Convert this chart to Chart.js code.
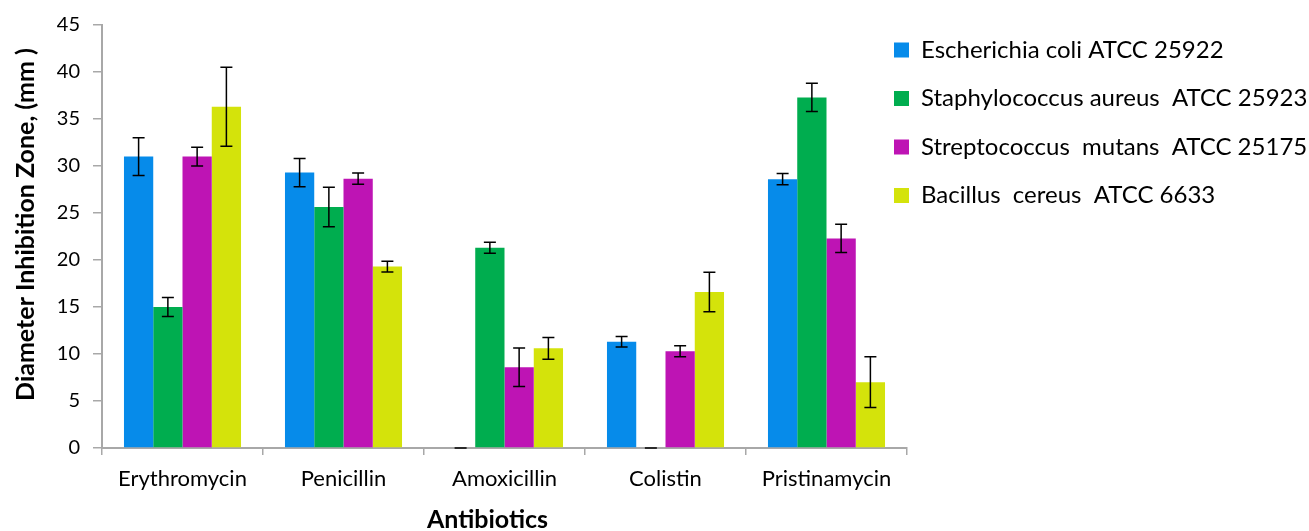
<!DOCTYPE html>
<html>
<head>
<meta charset="utf-8">
<script src="https://cdn.jsdelivr.net/npm/chart.js@4.4.1/dist/chart.umd.min.js"></script>
<style>
  html, body { margin: 0; padding: 0; background: #ffffff; overflow: hidden; }
  #wrap { width: 1309px; height: 531px; position: relative; overflow: hidden; }
  #chart { display: block; }
</style>
</head>
<body>
<div id="wrap"><canvas id="chart"></canvas></div>
<script>
// Antibiotics tested
const categories = ['Erythromycin', 'Penicillin', 'Amoxicillin', 'Colistin', 'Pristinamycin'];

// Strain names
const strainNames = [
  'Escherichia coli ATCC 25922',
  'Staphylococcus aureus  ATCC 25923',
  'Streptococcus  mutans  ATCC 25175',
  'Bacillus  cereus  ATCC 6633'
];

// Mean inhibition zone diameters (mm) and their standard deviations
const ecoliMean    = [31.0, 29.3, 0, 11.3, 28.6];
const ecoliSd      = [2.0, 1.5, 0, 0.55, 0.6];
const saureusMean  = [15.0, 25.65, 21.3, 0, 37.3];
const saureusSd    = [1.0, 2.1, 0.58, 0, 1.5];
const smutansMean  = [31.0, 28.65, 8.6, 10.3, 22.3];
const smutansSd    = [1.0, 0.6, 2.05, 0.58, 1.5];
const bcereusMean  = [36.3, 19.3, 10.6, 16.6, 7.0];
const bcereusSd    = [4.2, 0.57, 1.15, 2.1, 2.7];

// Y axis range
const yMin = 0, yMax = 45, yStep = 5;

const colors = ['#068BEA', '#00AD4F', '#BE14B4', '#D4E30B'];
const FONT = 'Lato, "Open Sans", sans-serif';
const AXIS_COLOR = '#a8a8a8';

// Error bars drawn from each dataset's "errors" array through the y scale
const errorBars = {
  id: 'errorBars',
  afterDatasetsDraw(chart) {
    const ctx = chart.ctx;
    const y = chart.scales.y;
    ctx.save();
    ctx.strokeStyle = '#000000';
    ctx.lineWidth = 1.5;
    chart.data.datasets.forEach((ds, i) => {
      const meta = chart.getDatasetMeta(i);
      meta.data.forEach((bar, j) => {
        const v = ds.data[j];
        const e = ds.errors[j];
        const yHi = y.getPixelForValue(v + e);
        const yLo = y.getPixelForValue(Math.max(v - e, 0));
        const x = bar.x;
        const cap = 6;
        ctx.beginPath();
        ctx.moveTo(x, yHi); ctx.lineTo(x, yLo);
        ctx.moveTo(x - cap, yHi); ctx.lineTo(x + cap, yHi);
        ctx.moveTo(x - cap, yLo); ctx.lineTo(x + cap, yLo);
        ctx.stroke();
      });
    });
    ctx.restore();
  }
};

// Legend overlaps the right end of the plot area; axis titles get small offsets
const LEGEND_W = 402, LEGEND_DX = -37.5, LEGEND_DY = -7.5;
const Y_TITLE_DY = -12, X_TITLE_DX = -17;

function shiftTitle(scale, dx, dy) {
  if (scale._titleShifted) return;
  const dt = scale.drawTitle.bind(scale);
  scale.drawTitle = function () {
    const c = this.ctx;
    c.save();
    c.translate(dx, dy);
    dt();
    c.restore();
  };
  scale._titleShifted = true;
}

const layoutTweaks = {
  id: 'layoutTweaks',
  afterInit(chart) {
    const lg = chart.legend;
    const fit = lg.fit.bind(lg);
    lg.fit = function () { fit(); this.width = LEGEND_W; };
  },
  afterLayout(chart) {
    const lg = chart.legend;
    lg.left += LEGEND_DX;
    lg.right = chart.width;
    lg.width = lg.right - lg.left;
    lg.top += LEGEND_DY;
    lg.height = lg.bottom - lg.top;
    shiftTitle(chart.scales.y, 0, Y_TITLE_DY);
    shiftTitle(chart.scales.x, X_TITLE_DX, 0);
  }
};

const means = [ecoliMean, saureusMean, smutansMean, bcereusMean];
const sds = [ecoliSd, saureusSd, smutansSd, bcereusSd];

new Chart(document.getElementById('chart'), {
  type: 'bar',
  data: {
    labels: categories,
    datasets: strainNames.map((name, i) => ({
      label: name,
      data: means[i],
      errors: sds[i],
      backgroundColor: colors[i],
      borderWidth: 0,
      categoryPercentage: 0.727,
      barPercentage: 1.0
    }))
  },
  options: {
    responsive: true,
    maintainAspectRatio: false,
    animation: false,
    layout: { padding: { top: 21, right: 0, bottom: 0, left: 0 } },
    plugins: {
      tooltip: { enabled: false },
      legend: {
        position: 'right',
        align: 'start',
        labels: {
          boxWidth: 15,
          boxHeight: 15,
          padding: 24.5,
          color: '#000000',
          font: { family: FONT, size: 24 }
        }
      }
    },
    scales: {
      x: {
        grid: {
          drawOnChartArea: false,
          offset: true,
          tickLength: 7,
          color: AXIS_COLOR,
          lineWidth: 1.5
        },
        border: { color: AXIS_COLOR, width: 2 },
        ticks: {
          color: '#000000',
          padding: 11,
          font: { family: FONT, size: 22 }
        },
        title: {
          display: true,
          text: 'Antibiotics',
          color: '#000000',
          padding: { top: 0, bottom: -4 },
          font: { family: FONT, size: 25, weight: 'bold' }
        },
        afterFit(scale) { scale.height = 83; }
      },
      y: {
        min: yMin,
        max: yMax,
        grid: {
          drawOnChartArea: false,
          tickLength: 9,
          color: AXIS_COLOR,
          lineWidth: 1.5
        },
        border: { color: AXIS_COLOR, width: 2 },
        ticks: {
          stepSize: yStep,
          color: '#000000',
          padding: 13,
          font: { family: FONT, size: 20 }
        },
        title: {
          display: true,
          text: 'Diameter Inhibition Zone, (mm )',
          color: '#000000',
          padding: { top: 11, bottom: 0 },
          font: { family: FONT, size: 25, weight: 'bold' }
        },
        afterFit(scale) { scale.width = 102; }
      }
    }
  },
  plugins: [errorBars, layoutTweaks]
});
</script>
</body>
</html>
